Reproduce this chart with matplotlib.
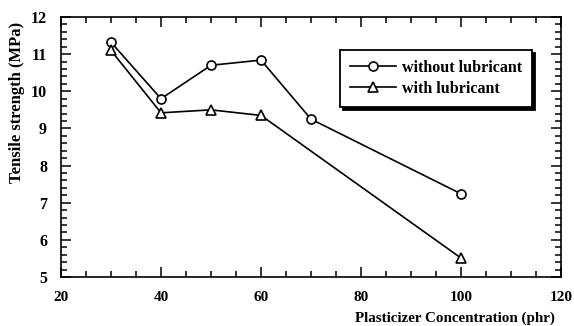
import matplotlib
matplotlib.use("Agg")
import matplotlib.pyplot as plt
from matplotlib.ticker import MultipleLocator

plt.rcParams['font.family'] = ['Liberation Serif', 'DejaVu Serif']
plt.rcParams['font.weight'] = 'bold'

conc_without = [30, 40, 50, 60, 70, 100]
ts_without = [11.32, 9.80, 10.70, 10.84, 9.25, 7.24]
conc_with = [30, 40, 50, 60, 100]
ts_with = [11.10, 9.42, 9.50, 9.35, 5.51]

W, H = 574, 326
fig = plt.figure(figsize=(W / 100, H / 100), dpi=100)
ax = fig.add_axes([61 / W, 1 - 277 / H, 500 / W, 260 / H])

ax.plot(conc_without, ts_without, '-', color='black', lw=1.2,
        marker='o', mfc='white', mec='black', ms=6.5, mew=1.2,
        label='without lubricant')
ax.plot(conc_with, ts_with, '-', color='black', lw=1.2,
        marker='^', mfc='white', mec='black', ms=6.5, mew=1.2,
        label='with lubricant')

ax.set_xlim(20, 120)
ax.set_ylim(5, 12)
ax.xaxis.set_major_locator(MultipleLocator(20))
ax.xaxis.set_minor_locator(MultipleLocator(5))
ax.yaxis.set_major_locator(MultipleLocator(1))
ax.yaxis.set_minor_locator(MultipleLocator(0.2))
ax.tick_params(which='both', direction='in', top=True, right=True,
               width=1.1, colors='black')
ax.tick_params(which='major', length=7)
ax.tick_params(which='minor', length=4.3)
ax.tick_params(axis='x', which='major', pad=10.2, labelsize=11)
ax.tick_params(axis='y', which='major', pad=10, labelsize=11.5)
for s in ax.spines.values():
    s.set_linewidth(1.2)
for lab in ax.get_xticklabels() + ax.get_yticklabels():
    lab.set_fontweight('bold')

# axis titles placed in figure pixel coordinates
fig.text(455 / W, 1 - 321.5 / H, 'Plasticizer Concentration (phr)',
         ha='center', va='baseline', fontsize=10.8, fontweight='bold')
fig.text(17 / W, 1 - 102 / H, 'Tensile strength (MPa)', rotation=90,
         ha='center', va='center', fontsize=12, fontweight='bold')

leg = ax.legend(loc='upper left',
                fancybox=False, edgecolor='black', framealpha=1,
                shadow={'color': 'black', 'alpha': 1, 'ox': 2.5, 'oy': -2.5},
                prop={'weight': 'bold', 'size': 11.5},
                handlelength=2.9, borderpad=0.62, labelspacing=0.3,
                handletextpad=0.35, borderaxespad=0)
leg.get_frame().set_linewidth(1.3)
leg.set_bbox_to_anchor(((340 - 61) / 500, (277 - 50) / 260), transform=ax.transAxes)

fig.savefig('out.png', dpi=100)
